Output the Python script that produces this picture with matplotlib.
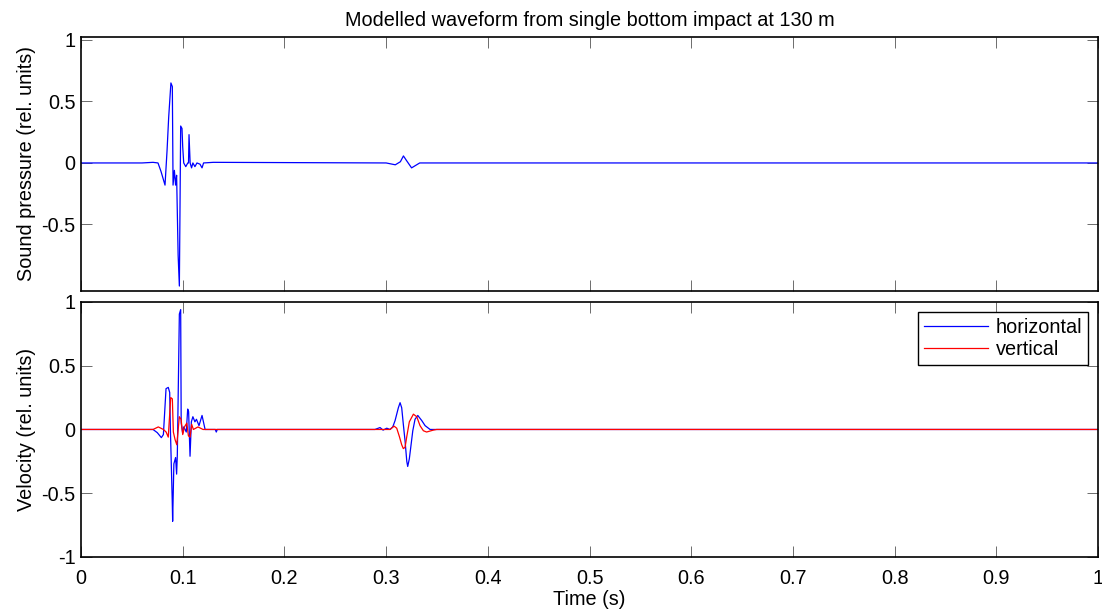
import numpy as np
import matplotlib
matplotlib.use('Agg')
import matplotlib.pyplot as plt

plt.rcParams['font.family'] = ['Liberation Sans', 'DejaVu Sans']
plt.rcParams['axes.unicode_minus'] = False

# Top panel: sound pressure (time in s, rel. units)
t_press = [0.0, 0.060, 0.0708, 0.0757, 0.0787, 0.0826, 0.0846, 0.0862, 0.0884, 0.0898,
           0.0905, 0.0918, 0.0930, 0.0940, 0.0955, 0.0967, 0.0980, 0.0993, 0.1000, 0.1010,
           0.1030, 0.1050, 0.1057, 0.1062, 0.1073, 0.1087, 0.1100, 0.1120, 0.1140, 0.1170,
           0.1190, 0.1205, 0.1300, 0.3000, 0.3090, 0.3140, 0.3170, 0.3200, 0.3250, 0.3330,
           1.0]
p_press = [0.0, 0.0, 0.005, 0.0, -0.07, -0.18, 0.10, 0.37, 0.65, 0.62,
           -0.18, -0.06, -0.18, -0.10, -0.75, -1.0, 0.30, 0.28, 0.13, 0.0,
           -0.03, 0.0, 0.0, 0.23, 0.0, -0.04, 0.0, -0.03, 0.0, -0.01,
           -0.04, 0.0, 0.005, 0.0, -0.015, 0.01, 0.057, 0.02, -0.04, 0.0,
           0.0]

# Bottom panel: horizontal velocity
t_hor = [0.0, 0.0708, 0.0750, 0.0790, 0.0810, 0.0836, 0.0858, 0.0872, 0.0879, 0.0897,
         0.0901, 0.0913, 0.0930, 0.0940, 0.0947, 0.0967, 0.0980, 0.0985, 0.1000, 0.1010,
         0.1035, 0.1049, 0.1058, 0.1072, 0.1085, 0.1100, 0.1120, 0.1135, 0.1160, 0.1190,
         0.1220, 0.1320, 0.1330, 0.1340, 0.2890, 0.2940, 0.2970, 0.3006, 0.3038, 0.3065,
         0.3088, 0.3120, 0.3137, 0.3153, 0.3169, 0.3186, 0.3203, 0.3212, 0.3228, 0.3242,
         0.3262, 0.3284, 0.3311, 0.3350, 0.3383, 0.3432, 0.3530, 1.0]
v_hor = [0.0, 0.0, -0.025, -0.064, -0.04, 0.32, 0.33, 0.29, 0.0, -0.56,
         -0.72, -0.27, -0.22, -0.35, -0.20, 0.905, 0.94, 0.05, -0.03, 0.02,
         -0.02, 0.16, 0.14, -0.21, 0.06, 0.10, 0.06, 0.08, 0.03, 0.11,
         0.0, 0.0, -0.02, 0.0, 0.0, 0.015, -0.005, 0.01, 0.0, 0.02,
         0.07, 0.17, 0.21, 0.17, 0.04, -0.09, -0.25, -0.29, -0.23, -0.14,
         -0.01, 0.08, 0.11, 0.07, 0.03, 0.0, 0.0, 0.0]

# Bottom panel: vertical velocity
t_ver = [0.0, 0.0708, 0.0760, 0.0810, 0.0837, 0.0858, 0.0882, 0.0898, 0.0908, 0.0925,
         0.0942, 0.0967, 0.0984, 0.1000, 0.1017, 0.1040, 0.1056, 0.1072, 0.1088, 0.1105,
         0.1150, 0.1200, 0.3038, 0.3078, 0.3104, 0.3130, 0.3153, 0.3169, 0.3186, 0.3203,
         0.3228, 0.3268, 0.3301, 0.3333, 0.3366, 0.3398, 0.3464, 0.3497, 1.0]
v_ver = [0.0, 0.0, 0.02, 0.0, -0.02, -0.06, 0.25, 0.24, -0.02, -0.08,
         -0.12, 0.10, 0.08, -0.04, 0.02, 0.05, -0.05, -0.06, 0.04, 0.0,
         0.02, 0.0, 0.0, 0.026, 0.01, -0.055, -0.12, -0.15, -0.14, -0.055,
         0.06, 0.12, 0.10, 0.03, -0.01, -0.02, -0.005, 0.0, 0.0]

x_ticks = [0, 0.1, 0.2, 0.3, 0.4, 0.5, 0.6, 0.7, 0.8, 0.9, 1]
x_labels = ['0', '0.1', '0.2', '0.3', '0.4', '0.5', '0.6', '0.7', '0.8', '0.9', '1']
top_yticks = [-0.5, 0, 0.5, 1]
top_ylabels = ['-0.5', '0', '0.5', '1']
bot_yticks = [-1, -0.5, 0, 0.5, 1]
bot_ylabels = ['-1', '-0.5', '0', '0.5', '1']

fs = 14.3
fig = plt.figure(figsize=(11.02, 6.10), dpi=100)
ax1 = fig.add_axes([0.0735, 0.523, 0.923, 0.4165])
ax2 = fig.add_axes([0.0735, 0.0869, 0.923, 0.4181])

for ax in (ax1, ax2):
    ax.set_xlim(0, 1)
    ax.set_xticks(x_ticks)
    ax.tick_params(direction='in', length=8, width=0.6, color='#555555',
                   top=True, right=True, labelsize=fs)
    ax.tick_params(axis='x', pad=9)
    ax.tick_params(axis='y', pad=4)
    for s in ax.spines.values():
        s.set_linewidth(1.2)

ax1.plot(t_press, p_press, color='blue', lw=0.9)
ax1.set_ylim(-1.04, 1.024)
ax1.set_yticks(top_yticks)
ax1.set_yticklabels(top_ylabels)
ax1.set_xticklabels([])
ax1.set_ylabel('Sound pressure (rel. units)', fontsize=fs, labelpad=4)
ax1.set_title('Modelled waveform from single bottom impact at 130 m', fontsize=fs, pad=8)

ax2.plot(t_hor, v_hor, color='blue', lw=0.9, label='horizontal')
ax2.plot(t_ver, v_ver, color='red', lw=0.9, label='vertical')
ax2.set_ylim(-1, 1)
ax2.set_yticks(bot_yticks)
ax2.set_yticklabels(bot_ylabels)
ax2.set_xticklabels(x_labels)
ax2.set_xlabel('Time (s)', fontsize=fs, labelpad=1)
ax2.set_ylabel('Velocity (rel. units)', fontsize=fs, labelpad=4)
leg = ax2.legend(loc='upper right', fontsize=fs, fancybox=False, framealpha=1,
                 edgecolor='black', borderpad=0.3, handlelength=3.2, handletextpad=0.4,
                 labelspacing=0.15, borderaxespad=0.5)
leg.get_frame().set_linewidth(1.0)

fig.savefig('out.png', dpi=100)
